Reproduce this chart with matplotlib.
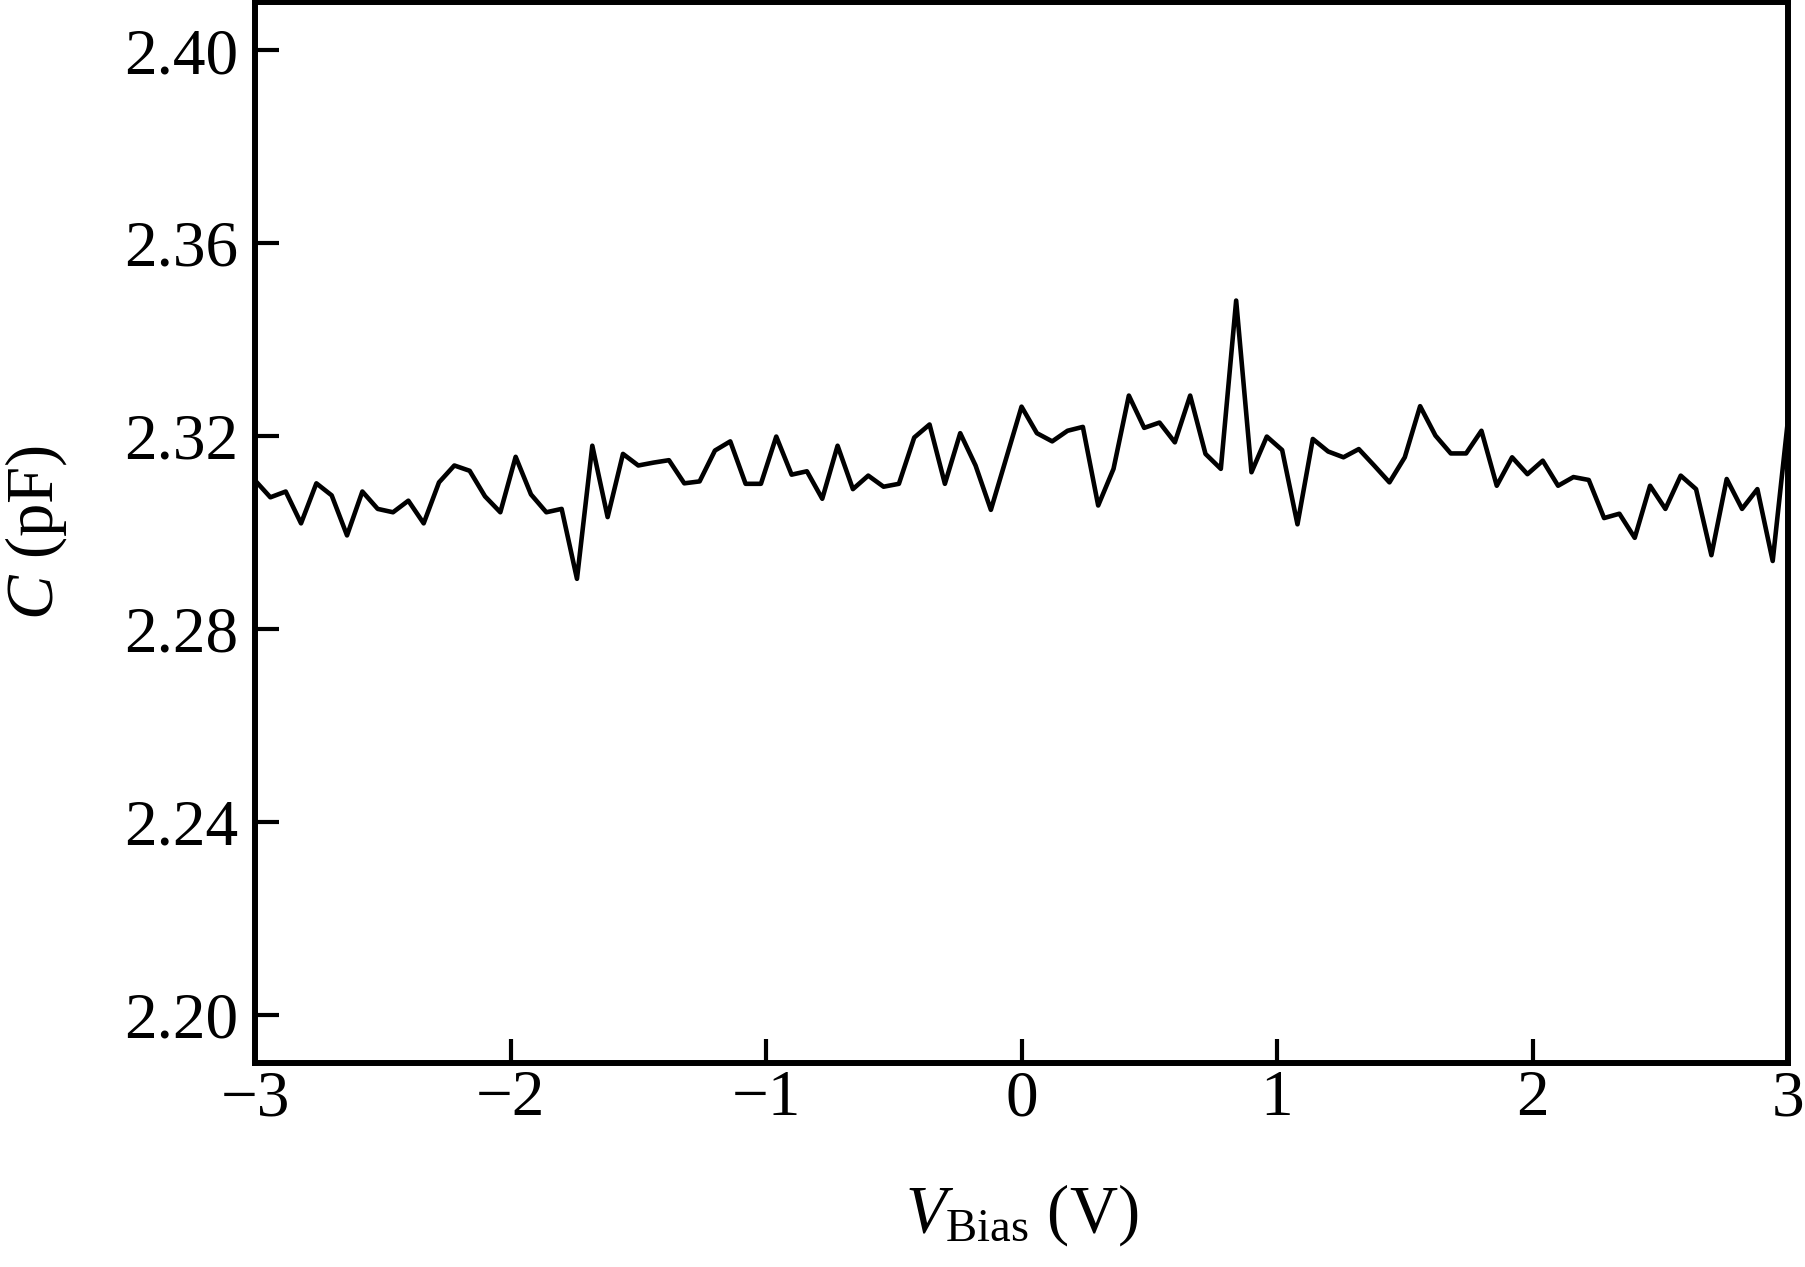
import numpy as np
import matplotlib
matplotlib.use("Agg")
import matplotlib.pyplot as plt

# Bias voltage sweep, -3 V to 3 V in 0.06 V steps
v_bias = np.linspace(-3, 3, 101)

# Capacitance (pF)
capacitance = [
    2.3108, 2.3073, 2.3085, 2.3019, 2.3102, 2.3077, 2.2994, 2.3085, 2.3049, 2.3042,
    2.3066, 2.3019, 2.3104, 2.3139, 2.3128, 2.3075, 2.3042, 2.3157, 2.3079, 2.3042,
    2.3049, 2.2904, 2.3180, 2.3032, 2.3163, 2.3139, 2.3145, 2.3150, 2.3102, 2.3106,
    2.3170, 2.3189, 2.3101, 2.3101, 2.3199, 2.3120, 2.3127, 2.3070, 2.3180, 2.3090,
    2.3118, 2.3095, 2.3101, 2.3197, 2.3224, 2.3101, 2.3206, 2.3139, 2.3047, 2.3154,
    2.3261, 2.3206, 2.3189, 2.3211, 2.3219, 2.3056, 2.3132, 2.3284, 2.3217, 2.3228,
    2.3187, 2.3284, 2.3163, 2.3132, 2.3481, 2.3125, 2.3199, 2.3171, 2.3017, 2.3194,
    2.3168, 2.3156, 2.3173, 2.3139, 2.3104, 2.3156, 2.3262, 2.3201, 2.3164, 2.3164,
    2.3211, 2.3097, 2.3156, 2.3121, 2.3149, 2.3097, 2.3115, 2.3109, 2.3030, 2.3039,
    2.2989, 2.3097, 2.3049, 2.3118, 2.3090, 2.2953, 2.3111, 2.3049, 2.3090, 2.2941,
    2.3235,
]

x_ticks = [-3, -2, -1, 0, 1, 2, 3]
y_ticks = [2.20, 2.24, 2.28, 2.32, 2.36, 2.40]

plt.rcParams['font.family'] = ['Liberation Serif', 'DejaVu Serif']
plt.rcParams['mathtext.fontset'] = 'custom'
plt.rcParams['mathtext.rm'] = 'Liberation Serif'
plt.rcParams['mathtext.it'] = 'Liberation Serif:italic'

fig = plt.figure(figsize=(18.05, 12.67), dpi=100)
ax = fig.add_axes([0.1413, 0.161, 0.8493, 0.8374])

ax.plot(v_bias, capacitance, color='black', lw=3.3)

ax.set_xlim(-3, 3)
ax.set_ylim(2.19, 2.41)
ax.set_xticks(x_ticks)
ax.set_yticks(y_ticks)
ax.set_yticklabels([f"{t:.2f}" for t in y_ticks])
ax.set_xticklabels([f"{t}".replace('-', '\u2212') for t in x_ticks])

ax.tick_params(direction='in', length=17, width=3, labelsize=47,
               top=False, right=False)
ax.tick_params(axis='y', pad=12)
ax.tick_params(axis='x', pad=5)
for sp in ax.spines.values():
    sp.set_linewidth(4.3)

ax.set_xlabel(r'$V_{\mathrm{Bias}}$ (V)', fontsize=48, labelpad=38)
ax.set_ylabel(r'$C$ (pF)', fontsize=48, labelpad=40)

fig.savefig('out.png', dpi=100)
